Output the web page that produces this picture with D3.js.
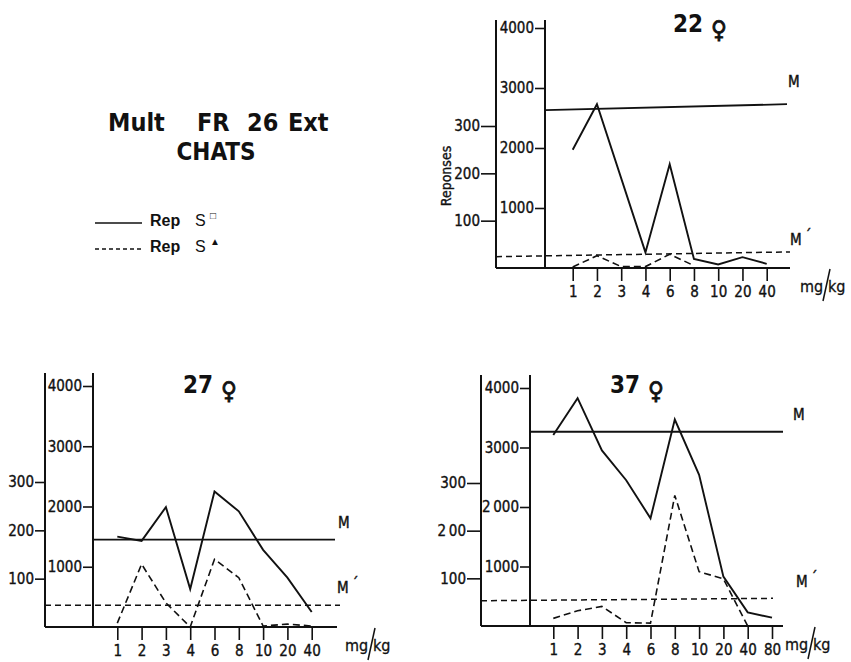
<!DOCTYPE html>
<html>
<head>
<meta charset="utf-8">
<script src="https://cdn.jsdelivr.net/npm/d3@7"></script>
<style>
  body { margin: 0; background: #fff; }
  svg text { font-family: "DejaVu Sans Condensed", "DejaVu Sans", sans-serif; fill: #111; }
</style>
</head>
<body>
<div id="wrapper"></div>
<script>
// doses (mg/kg) on the x axis of each cat
const doses22 = ["1", "2", "3", "4", "6", "8", "10", "20", "40"]
const doses27 = ["1", "2", "3", "4", "6", "8", "10", "20", "40"]
const doses37 = ["1", "2", "3", "4", "6", "8", "10", "20", "40", "80"]

// Rep S° (solid line) - read on the inner scale 0..4000
const solid22 = [1970, 2730, null, 260, 1730, 150, 60, 180, 70]
const solid27 = [1500, 1430, 1990, 630, 2250, 1920, 1280, 820, 250]
const solid37 = [3210, 3830, 2950, 2450, 1810, 3470, 2540, 830, 230, 140]

// Rep S delta (dashed line) - read on the outer scale 0..300
const dashed22 = [2, 26, 3, 3, 29, 5, null, null, null]
const dashed27 = [8, 130, 50, 0, 140, 102, 2, 6, 2]
const dashed37 = [16, 32, 41, 7, 6, 274, 114, 99, 0, null]

// M (inner scale) and M' (outer scale) levels, start / end of the line
const mLevel22 = [2630, 2730]
const mLevel27 = [1450, 1450]
const mLevel37 = [3265, 3265]
const mPrime22 = [24, 34]
const mPrime27 = [45, 45]
const mPrime37 = [53, 58]

// tick values and labels
const innerTicks = [1000, 2000, 3000, 4000]
const outerTicks = [100, 200, 300]
const innerLabels = ["1000", "2000", "3000", "4000"]
const innerLabels37 = ["1000", "2\u2009000", "3000", "4000"]
const outerLabels = ["100", "200", "300"]
const outerLabels37 = ["100", "2\u200900", "300"]

const width = 851
const height = 662

const svg = d3.select("#wrapper")
  .append("svg")
    .attr("width", width)
    .attr("height", height)

// header + legend in the top left corner
const header = svg.append("g")
  .style("font-family", "'Liberation Sans', Arial, sans-serif")
  .style("font-weight", "bold")
header.append("text").attr("x", 108).attr("y", 131).style("font-size", "25px").text("Mult")
header.append("text").attr("x", 197).attr("y", 131).style("font-size", "25px").text("FR")
header.append("text").attr("x", 247).attr("y", 131).style("font-size", "25px").text("26")
header.append("text").attr("x", 288).attr("y", 131).style("font-size", "25px").text("Ext")
header.append("text").attr("x", 216).attr("y", 160).attr("text-anchor", "middle")
  .style("font-size", "24px").text("CHATS")

const legendRows = [
  { dash: null, mark: "\u25A1", y: 223 },
  { dash: "4,3", mark: "\u25B2", y: 249 },
]
legendRows.forEach(r => {
  svg.append("line")
    .attr("x1", 95).attr("x2", 142)
    .attr("y1", r.y).attr("y2", r.y)
    .attr("stroke", "#111")
    .attr("stroke-width", 1.6)
    .attr("stroke-dasharray", r.dash)
  const t = svg.append("text")
    .attr("y", r.y + 3)
    .style("font-family", "'Liberation Sans', Arial, sans-serif")
    .style("font-size", "16px")
  t.append("tspan").attr("x", 150).style("font-weight", "bold").text("Rep")
  t.append("tspan").attr("x", 195).text("S")
  t.append("tspan").attr("x", 210).attr("dy", -7).style("font-size", "10px").style("font-weight", "bold").text(r.mark)
})

// layout of the three small charts
const panels = [
  {
    title: "22", doses: doses22, solid: solid22, dashed: dashed22,
    m: mLevel22, mp: mPrime22, innerLabels: innerLabels, outerLabels: outerLabels,
    outerX: 496, innerX: 545, top: 20, baseY: 268, y4000: 28, y300: 126,
    x0: 572.7, step: 24.25, right: 790, mEnd: 787, mpEnd: 790, outerTick: 15,
    titleX: 673, titleY: 32, mLabel: [788, 87], mpLabel: [790, 245], unitX: 800,
    ylabel: true,
  },
  {
    title: "27", doses: doses27, solid: solid27, dashed: dashed27,
    m: mLevel27, mp: mPrime27, innerLabels: innerLabels, outerLabels: outerLabels,
    outerX: 45, innerX: 93, top: 373, baseY: 627, y4000: 386, y300: 482,
    x0: 117.3, step: 24.3, right: 337, mEnd: 335, mpEnd: 340, outerTick: 10,
    titleX: 183, titleY: 393, mLabel: [338, 528], mpLabel: [337, 593], unitX: 345,
    ylabel: false,
  },
  {
    title: "37", doses: doses37, solid: solid37, dashed: dashed37,
    m: mLevel37, mp: mPrime37, innerLabels: innerLabels37, outerLabels: outerLabels37,
    outerX: 481, innerX: 530, top: 375, baseY: 626, y4000: 388, y300: 483,
    x0: 553.3, step: 24.3, right: 783, mEnd: 783, mpEnd: 773, outerTick: 14,
    titleX: 610, titleY: 393, mLabel: [793, 420], mpLabel: [796, 587], unitX: 785,
    ylabel: false,
  },
]

panels.forEach(drawPanel)

function drawPanel(p) {
  const g = svg.append("g")

  const xScale = d3.scalePoint()
    .domain(p.doses)
    .range([p.x0, p.x0 + p.step * (p.doses.length - 1)])

  // inner scale is for S° responses, outer one for S delta
  const innerScale = d3.scaleLinear()
    .domain([0, 4000])
    .range([p.baseY, p.y4000])
  const outerScale = d3.scaleLinear()
    .domain([0, 300])
    .range([p.baseY, p.y300])

  // the two vertical axes and the base line
  g.append("line")
    .attr("x1", p.outerX).attr("x2", p.outerX)
    .attr("y1", p.top).attr("y2", p.baseY)
    .attr("stroke", "#111").attr("stroke-width", 2)
  g.append("line")
    .attr("x1", p.innerX).attr("x2", p.innerX)
    .attr("y1", p.top).attr("y2", p.baseY)
    .attr("stroke", "#111").attr("stroke-width", 2)
  g.append("line")
    .attr("x1", p.outerX).attr("x2", p.right)
    .attr("y1", p.baseY).attr("y2", p.baseY)
    .attr("stroke", "#111").attr("stroke-width", 2)

  const innerAxis = g.append("g")
    .attr("transform", `translate(${p.innerX},0)`)
    .call(d3.axisLeft(innerScale)
      .tickValues(innerTicks)
      .tickSize(10)
      .tickPadding(1)
      .tickFormat((d, i) => p.innerLabels[i]))
  const outerAxis = g.append("g")
    .attr("transform", `translate(${p.outerX},0)`)
    .call(d3.axisLeft(outerScale)
      .tickValues(outerTicks)
      .tickSize(p.outerTick)
      .tickPadding(1)
      .tickFormat((d, i) => p.outerLabels[i]))
  const xAxis = g.append("g")
    .attr("transform", `translate(0,${p.baseY})`)
    .call(d3.axisBottom(xScale)
      .tickSize(13)
      .tickPadding(5))

  ;[innerAxis, outerAxis, xAxis].forEach(a => {
    a.select(".domain").remove()
    a.attr("font-family", null).attr("font-size", null)
    a.selectAll("line").attr("stroke", "#111").attr("stroke-width", 1.6)
    a.selectAll("text")
      .style("font-size", "15px")
      .attr("fill", "#111")
      .attr("stroke", "#111")
      .attr("stroke-width", 0.35)
  })

  // M and M' reference lines
  const mLine = d3.line()
    .x(d => d.x)
    .y(d => innerScale(d.v))
  g.append("path")
    .attr("d", mLine([{ x: p.innerX, v: p.m[0] }, { x: p.mEnd, v: p.m[1] }]))
    .attr("fill", "none").attr("stroke", "#111").attr("stroke-width", 1.8)

  const mpLine = d3.line()
    .x(d => d.x)
    .y(d => outerScale(d.v))
  g.append("path")
    .attr("d", mpLine([{ x: p.outerX, v: p.mp[0] }, { x: p.mpEnd, v: p.mp[1] }]))
    .attr("fill", "none").attr("stroke", "#111").attr("stroke-width", 1.5)
    .attr("stroke-dasharray", "6,4")

  // data lines
  const solidData = p.doses.map((d, i) => ({ dose: d, v: p.solid[i] })).filter(d => d.v != null)
  const dashedData = p.doses.map((d, i) => ({ dose: d, v: p.dashed[i] })).filter(d => d.v != null)

  const solidGen = d3.line()
    .x(d => xScale(d.dose))
    .y(d => innerScale(d.v))
  g.append("path")
    .attr("d", solidGen(solidData))
    .attr("fill", "none").attr("stroke", "#111").attr("stroke-width", 1.9)

  const dashedGen = d3.line()
    .x(d => xScale(d.dose))
    .y(d => outerScale(d.v))
  g.append("path")
    .attr("d", dashedGen(dashedData))
    .attr("fill", "none").attr("stroke", "#111").attr("stroke-width", 1.6)
    .attr("stroke-dasharray", "7,4")

  // labels
  g.append("text")
    .attr("x", p.titleX).attr("y", p.titleY)
    .style("font-size", "24px").style("font-weight", "bold")
    .text(p.title)
  g.append("text")
    .attr("x", p.titleX + 38).attr("y", p.titleY + 6)
    .style("font-size", "24px").style("font-weight", "bold")
    .attr("stroke", "#111").attr("stroke-width", 0.8)
    .text("\u2640")

  g.append("text")
    .attr("x", p.mLabel[0]).attr("y", p.mLabel[1])
    .style("font-size", "15px")
    .attr("stroke", "#111").attr("stroke-width", 0.4)
    .text("M")
  const mp = g.append("text")
    .attr("x", p.mpLabel[0]).attr("y", p.mpLabel[1])
    .style("font-size", "15px")
    .attr("stroke", "#111").attr("stroke-width", 0.4)
  mp.append("tspan").text("M")
  mp.append("tspan").attr("dx", 3).attr("dy", -4).text("\u00B4")

  // mg/kg with the long slash
  g.append("text")
    .attr("x", p.unitX).attr("y", p.baseY + 24)
    .style("font-size", "16px")
    .attr("stroke", "#111").attr("stroke-width", 0.3)
    .text("mg")
  g.append("line")
    .attr("x1", p.unitX + 30).attr("x2", p.unitX + 23)
    .attr("y1", p.baseY + 1).attr("y2", p.baseY + 33)
    .attr("stroke", "#111").attr("stroke-width", 1.5)
  g.append("text")
    .attr("x", p.unitX + 28).attr("y", p.baseY + 24)
    .style("font-size", "16px")
    .attr("stroke", "#111").attr("stroke-width", 0.3)
    .text("kg")

  if (p.ylabel) {
    g.append("text")
      .attr("transform", `translate(451,${(p.top + p.baseY) / 2 + 32}) rotate(-90)`)
      .attr("text-anchor", "middle")
      .style("font-size", "14px")
      .attr("stroke", "#111").attr("stroke-width", 0.35)
      .text("Reponses")
  }
}
</script>
</body>
</html>
